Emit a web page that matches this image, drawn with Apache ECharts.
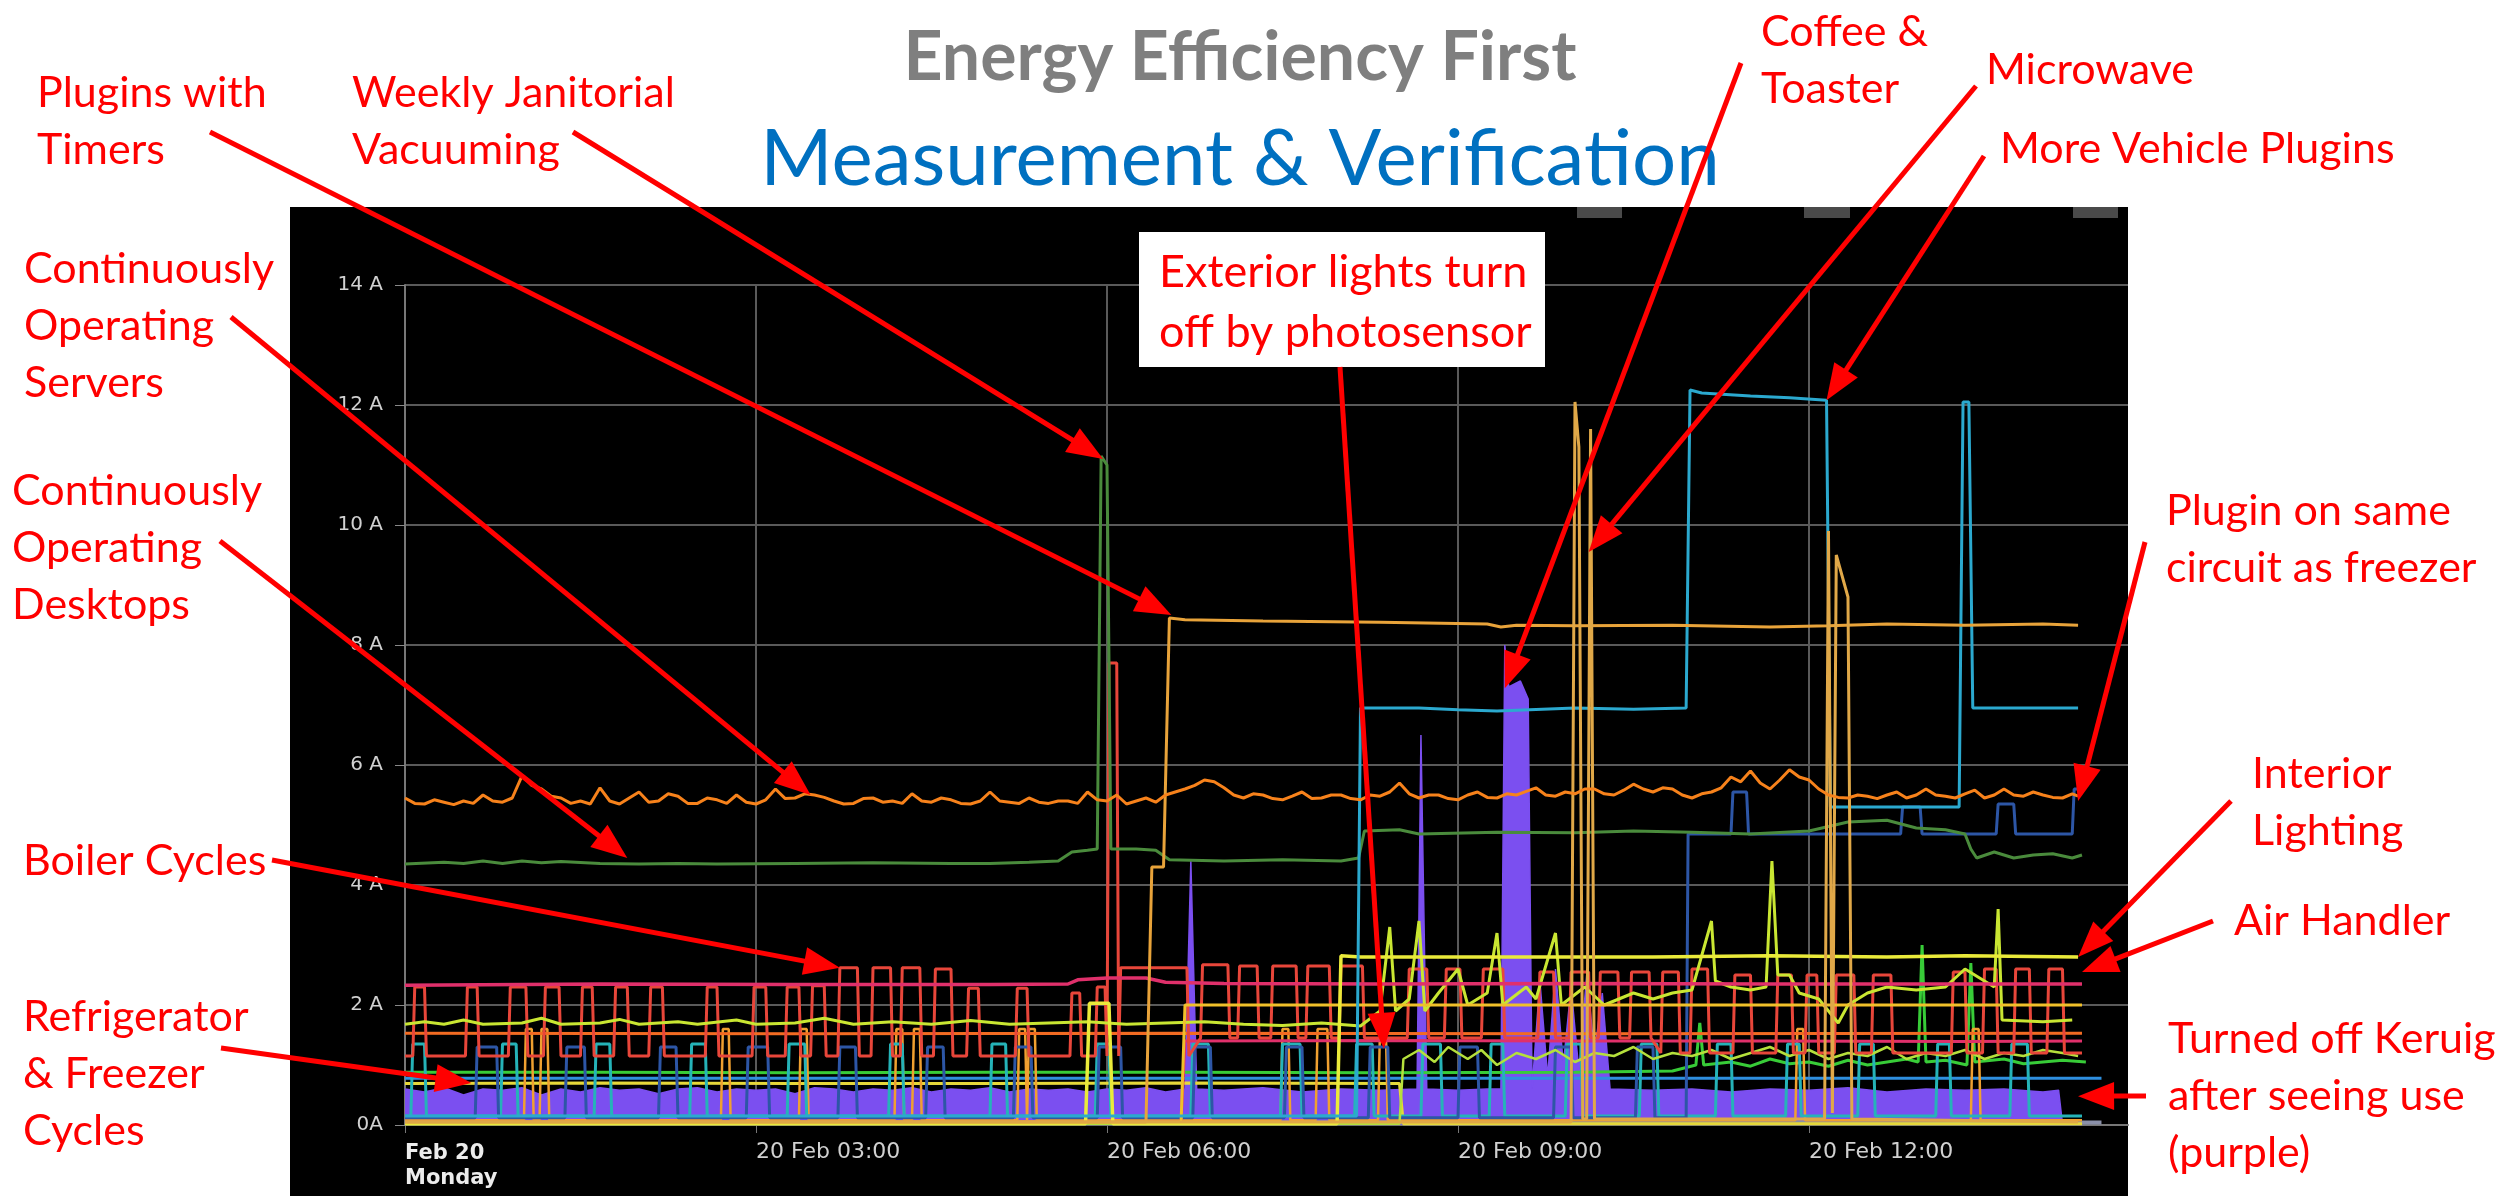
<!DOCTYPE html>
<html>
<head>
<meta charset="utf-8">
<script src="https://cdn.jsdelivr.net/npm/echarts@6/dist/echarts.min.js"></script>
<style>
  html, body { margin: 0; padding: 0; background: #fff; }
  #chart { width: 2509px; height: 1196px; }
</style>
</head>
<body>
<div id="chart"></div>
<script>
// ---- axis ticks (minutes after midnight, amps) ----
var xTicks = [0, 180, 360, 540, 720];
var xTickLabels = ['Feb 20\nMonday', '20 Feb 03:00', '20 Feb 06:00', '20 Feb 09:00', '20 Feb 12:00'];
var yTicks = [0, 2, 4, 6, 8, 10, 12, 14];
var yTickLabels = ['0A', '2 A', '4 A', '6 A', '8 A', '10 A', '12 A', '14 A'];

// ---- series: [minute, amps] ----
var servers = [[0,5.45],[5,5.36],[10,5.35],[15,5.42],[20,5.38],[25,5.34],[30,5.4],[35,5.36],[40,5.5],[45,5.4],[50,5.38],[55,5.45],[60,5.82],[65,5.66],[70,5.6],[75,5.48],[80,5.45],[85,5.36],[90,5.4],[95,5.35],[100,5.62],[105,5.4],[110,5.35],[115,5.45],[120,5.55],[125,5.38],[130,5.4],[135,5.52],[140,5.48],[145,5.36],[150,5.36],[155,5.45],[160,5.42],[165,5.36],[170,5.5],[175,5.38],[180,5.35],[185,5.42],[190,5.6],[195,5.44],[200,5.45],[205,5.52],[210,5.5],[215,5.46],[220,5.4],[225,5.35],[230,5.36],[235,5.44],[240,5.45],[245,5.38],[250,5.4],[255,5.36],[260,5.52],[265,5.4],[270,5.38],[275,5.45],[280,5.42],[285,5.36],[290,5.35],[295,5.4],[300,5.55],[305,5.4],[310,5.38],[315,5.36],[320,5.45],[325,5.38],[330,5.36],[335,5.4],[340,5.4],[345,5.36],[350,5.55],[355,5.42],[360,5.4],[365,5.5],[370,5.35],[375,5.4],[380,5.45],[385,5.38],[390,5.5],[395,5.55],[400,5.6],[405,5.66],[410,5.75],[415,5.72],[420,5.62],[425,5.5],[430,5.45],[435,5.52],[440,5.5],[445,5.44],[450,5.42],[455,5.48],[460,5.55],[465,5.44],[470,5.45],[475,5.5],[480,5.5],[485,5.44],[490,5.42],[495,5.5],[500,5.48],[505,5.55],[510,5.7],[515,5.52],[520,5.45],[525,5.5],[530,5.5],[535,5.44],[540,5.42],[545,5.5],[550,5.55],[555,5.46],[560,5.45],[565,5.52],[570,5.5],[575,5.56],[580,5.62],[585,5.5],[590,5.48],[595,5.55],[600,5.52],[605,5.6],[610,5.6],[615,5.52],[620,5.5],[625,5.58],[630,5.68],[635,5.6],[640,5.55],[645,5.62],[650,5.6],[655,5.5],[660,5.45],[665,5.52],[670,5.55],[675,5.62],[680,5.8],[685,5.72],[690,5.9],[695,5.7],[700,5.6],[705,5.75],[710,5.92],[715,5.8],[720,5.75],[725,5.6],[730,5.5],[735,5.46],[740,5.45],[745,5.5],[750,5.48],[755,5.44],[760,5.5],[765,5.55],[770,5.45],[775,5.5],[780,5.6],[785,5.5],[790,5.48],[795,5.45],[800,5.52],[805,5.58],[810,5.45],[815,5.5],[820,5.6],[825,5.5],[830,5.48],[835,5.55],[840,5.5],[845,5.46],[850,5.45],[855,5.52],[858,5.48]];

var desktops = [[0,4.35],[20,4.38],[30,4.36],[40,4.4],[50,4.36],[60,4.4],[70,4.37],[80,4.39],[100,4.36],[120,4.35],[140,4.36],[160,4.35],[200,4.36],[240,4.37],[280,4.36],[300,4.36],[320,4.38],[335,4.4],[342,4.55],[350,4.58],[355,4.6],[357,11.15],[360,11.0],[362,4.6],[375,4.6],[385,4.58],[392,4.42],[420,4.4],[450,4.42],[480,4.4],[489,4.45],[492,4.9],[510,4.92],[520,4.85],[560,4.88],[600,4.87],[630,4.9],[660,4.88],[690,4.85],[720,4.9],[740,5.05],[760,5.08],[775,4.95],[790,4.92],[800,4.85],[803,4.6],[806,4.45],[815,4.55],[825,4.45],[835,4.5],[845,4.52],[855,4.45],[860,4.5]];

var timers = [[0,0.05],[380,0.05],[383,4.3],[389,4.3],[392,8.45],[400,8.42],[440,8.4],[500,8.38],[555,8.35],[562,8.3],[570,8.33],[600,8.32],[650,8.33],[700,8.3],[730,8.32],[760,8.35],[800,8.33],[840,8.35],[858,8.33]];

var kitchen = [[0,0.05],[598,0.05],[600,12.05],[602,11.3],[604,0.1],[606,0.1],[608,11.6],[610,0.1],[728,0.1],[730,9.9],[732,0.2],[734,9.5],[740,8.8],[742,0.1],[858,0.05]];

var vehicles = [[0,0.15],[488,0.15],[490,6.95],[520,6.95],[540,6.92],[560,6.9],[600,6.95],[630,6.93],[657,6.95],[659,12.25],[665,12.2],[690,12.15],[710,12.12],[729,12.08],[731,5.3],[797,5.3],[799,12.05],[802,12.05],[804,6.95],[858,6.95]];

var freezerCycles = [[37,47],[83,92],[131,139],[176,186],[223,231],[268,276],[313,321],[356,367],[405,413],[452,460],[495,504],[541,550],[590,598],[632,640]];
var freezerPlugin = [[657,0.12],[658,4.85],[680,4.85],[681,5.55],[688,5.55],[689,4.85],[767,4.85],[768,5.3],[777,5.3],[778,4.85],[816,4.85],[817,5.35],[825,5.35],[826,4.85],[855,4.85],[856,5.6],[859,5.6]];

var fridgeCycles = [[4,10],[50,57],[98,105],[147,154],[197,205],[249,255],[301,308],[355,361],[404,412],[450,459],[488,496],[522,531],[557,563],[596,603],[634,642],[673,680],[709,715],[746,753],[786,792],[824,832]];

// boiler: [start, end, on level, off level]
var boilerCycles = [[5,10,2.3,1.15],[32,37,2.3,1.15],[54,62,2.3,1.15],[72,79,2.3,1.15],[91,96,2.3,1.15],[108,114,2.3,1.15],[126,132,2.3,1.15],[155,160,2.3,1.15],[179,185,2.3,1.15],[196,202,2.3,1.15],[209,215,2.32,1.15],[223,232,2.62,1.15],[240,249,2.62,1.15],[255,264,2.62,1.15],[272,280,2.6,1.15],[289,294,2.28,1.15],[314,319,2.28,1.15],[342,346,2.2,1.15],[355,359,2.3,1.15],[361,365,7.7,1.15],[367,401,2.62,1.15],[409,422,2.67,1.45],[428,437,2.65,1.45],[445,457,2.65,1.45],[463,474,2.65,1.45],[480,491,2.65,1.45],[515,524,2.6,1.45],[534,541,2.6,1.45],[553,563,2.6,1.45],[582,589,2.55,1.45],[598,607,2.55,1.45],[613,622,2.55,1.45],[629,638,2.55,1.45],[645,653,2.55,1.2],[660,668,2.6,1.2],[682,690,2.5,1.2],[704,711,2.5,1.2],[719,724,2.5,1.2],[734,743,2.5,1.2],[753,762,2.5,1.2],[794,800,2.55,1.2],[810,816,2.6,1.2],[826,833,2.6,1.2],[843,850,2.6,1.2]];

var airHandler = [[0,2.33],[100,2.35],[200,2.34],[300,2.34],[340,2.35],[345,2.42],[360,2.45],[380,2.45],[390,2.38],[420,2.36],[500,2.35],[600,2.36],[700,2.35],[800,2.35],[860,2.35]];
var pinkLow = [[0,0.05],[398,0.05],[400,1.4],[500,1.41],[600,1.4],[700,1.4],[800,1.39],[860,1.4]];
var orangeFlat = [[0,1.53],[200,1.52],[400,1.53],[600,1.52],[860,1.53]];
var goldFlat = [[0,0.05],[398,0.05],[400,2.0],[600,2.0],[860,2.0]];
var interior = [[0,0.02],[349,0.02],[351,2.03],[361,2.03],[363,0.02],[478,0.02],[480,2.82],[490,2.8],[560,2.8],[640,2.8],[700,2.82],[760,2.8],[800,2.82],[858,2.8]];
var exterior = [[0,0.69],[100,0.7],[200,0.69],[300,0.69],[400,0.7],[510,0.69],[512,0.02],[860,0.02]];

var lime = [[0,1.68],[10,1.72],[20,1.68],[30,1.75],[40,1.68],[60,1.7],[70,1.78],[80,1.68],[100,1.7],[110,1.76],[120,1.68],[140,1.72],[150,1.68],[170,1.75],[180,1.68],[200,1.7],[215,1.78],[230,1.68],[250,1.72],[270,1.68],[290,1.74],[310,1.68],[330,1.7],[350,1.72],[370,1.68],[390,1.7],[410,1.72],[430,1.68],[450,1.66],[470,1.7],[490,1.65],[500,1.9],[505,3.3],[508,1.9],[515,2.1],[520,3.4],[523,1.9],[530,2.2],[540,2.6],[545,2.0],[555,2.2],[560,3.2],[563,2.0],[575,2.3],[580,2.1],[590,3.2],[593,2.0],[605,2.3],[615,2.0],[630,2.2],[640,2.1],[650,2.2],[660,2.25],[670,3.4],[672,2.4],[680,2.3],[690,2.25],[698,2.3],[701,4.4],[704,2.5],[710,2.5],[715,2.2],[725,2.1],[735,1.7],[740,2.0],[750,2.2],[760,2.3],[775,2.25],[790,2.3],[800,2.6],[810,2.4],[815,2.3],[817,3.6],[819,1.75],[840,1.72],[855,1.75]];
var lime2 = [[0,0.02],[510,0.02],[512,1.1],[520,1.25],[528,1.05],[535,1.3],[545,1.1],[552,1.25],[560,1.0],[570,1.2],[580,1.1],[590,1.25],[600,1.05],[610,1.2],[620,1.15],[630,1.3],[640,1.1],[650,1.2],[660,1.15],[670,1.25],[680,1.1],[690,1.2],[700,1.3],[710,1.15],[720,1.25],[730,1.1],[740,1.2],[750,1.15],[760,1.3],[770,1.1],[780,1.2],[790,1.15],[800,1.25],[810,1.1],[820,1.2],[830,1.15],[840,1.25],[850,1.2],[858,1.15]];
var green = [[0,0.88],[100,0.88],[200,0.87],[300,0.88],[400,0.88],[500,0.87],[600,0.88],[650,0.9],[662,1.0],[664,1.7],[666,1.0],[680,1.05],[690,0.98],[700,1.1],[710,1.02],[720,1.05],[730,0.98],[740,1.08],[750,1.0],[760,1.05],[770,1.1],[776,1.05],[778,3.0],[780,1.05],[790,1.08],[801,1.0],[803,2.7],[805,1.05],[820,1.1],[830,1.02],[840,1.05],[850,1.08],[862,1.05]];
var lightBlue = [[0,0.78],[300,0.78],[600,0.78],[870,0.78]];
var grayBase = [[0,0.04],[870,0.04]];
var amberPulses = [[62,65],[70,73],[163,166],[203,206],[252,255],[261,264],[315,318],[320,323],[450,453],[468,473],[500,503],[714,717],[804,807]];

var keurig = [[0,0.6],[10,0.55],[20,0.62],[30,0.5],[40,0.6],[50,0.58],[60,0.62],[70,0.5],[80,0.6],[90,0.55],[100,0.62],[110,0.58],[120,0.6],[130,0.52],[140,0.6],[150,0.62],[160,0.55],[170,0.6],[180,0.58],[190,0.6],[200,0.52],[210,0.62],[220,0.6],[230,0.55],[240,0.6],[250,0.58],[260,0.62],[270,0.55],[280,0.6],[290,0.58],[300,0.62],[310,0.55],[320,0.6],[330,0.58],[340,0.6],[350,0.55],[360,0.6],[370,0.58],[380,0.62],[390,0.55],[400,0.6],[403,4.4],[406,0.6],[420,0.58],[440,0.62],[460,0.55],[480,0.6],[500,0.58],[519,0.6],[521,6.5],[524,0.6],[540,0.58],[555,0.6],[562,0.6],[564,8.0],[566,7.3],[572,7.4],[576,7.1],[578,0.6],[582,2.4],[586,0.8],[590,2.6],[594,1.0],[598,2.3],[602,0.9],[606,2.5],[610,1.2],[614,2.2],[618,0.6],[640,0.58],[660,0.6],[680,0.55],[700,0.6],[720,0.58],[740,0.62],[760,0.55],[780,0.6],[800,0.58],[820,0.6],[840,0.55],[848,0.58],[850,0.02],[860,0.02]];

// ---- helpers ----
function squarePulses(list, base, top, endAt) {
    var pts = [[0, base]];
    list.forEach(function (p) {
        pts.push([p[0] - 1, base], [p[0], top], [p[1], top], [p[1] + 1, base]);
    });
    if (endAt) pts.push([endAt, base]);
    return pts;
}

function boilerLine(list) {
    var pts = [[0, list[0][3]]];
    list.forEach(function (p) {
        pts.push([p[0] - 1, p[3]], [p[0], p[2]], [p[1], p[2]], [p[1] + 1, p[3]]);
    });
    pts.push([860, 1.2]);
    return pts;
}

function line(name, data, color, width, extra) {
    var s = {
        name: name, type: 'line', data: data, showSymbol: false, animation: false,
        lineStyle: { color: color, width: width || 3 }, itemStyle: { color: color }
    };
    if (extra) Object.keys(extra).forEach(function (k) { s[k] = extra[k]; });
    return s;
}

var font = 'Lato, "Open Sans", sans-serif';
var chart = echarts.init(document.getElementById('chart'));

chart.setOption({
    backgroundColor: '#ffffff',
    animation: false,
    grid: { left: 405, top: 285, right: 381, bottom: 71 },
    xAxis: {
        type: 'value', min: 0, max: 883.6,
        axisLine: { show: true, lineStyle: { color: '#777', width: 2 } },
        axisTick: { show: true, length: 8, customValues: xTicks, lineStyle: { color: '#777' } },
        splitLine: { show: true, lineStyle: { color: '#5a5a5a', width: 2 } },
        axisLabel: {
            customValues: xTicks, align: 'left', margin: 16,
            color: '#d0d0d0', fontFamily: 'DejaVu Sans', fontSize: 22,
            formatter: function (v) {
                var s = xTickLabels[xTicks.indexOf(v)] || '';
                if (s.indexOf('\n') >= 0) {
                    return s.split('\n').map(function (t) { return '{b|' + t + '}'; }).join('\n');
                }
                return s;
            },
            rich: { b: { fontWeight: 'bold', color: '#ececec', fontSize: 21, lineHeight: 25, fontFamily: 'DejaVu Sans' } }
        }
    },
    yAxis: {
        type: 'value', min: 0, max: 14, interval: 2,
        axisLine: { show: true, lineStyle: { color: '#777', width: 2 } },
        axisTick: { show: true, length: 10, lineStyle: { color: '#888' } },
        splitLine: { show: true, lineStyle: { color: '#5a5a5a', width: 2 } },
        axisLabel: {
            margin: 22, color: '#d0d0d0', fontFamily: 'DejaVu Sans', fontSize: 20,
            formatter: function (v) { return yTickLabels[yTicks.indexOf(v)]; }
        }
    },
    series: [
        line('Keurig', keurig, '#7b4ff0', 1.5, { areaStyle: { color: '#7b4ff0', opacity: 1 } }),
        line('Base', grayBase, '#8a8fa8', 4),
        line('Light blue', lightBlue, '#2f8fe0', 3),
        line('Exterior', exterior, '#e6d83a', 3),
        line('Green', green, '#38cc38', 3),
        line('Amber', squarePulses(amberPulses, 0.08, 1.6, 860), '#f0a030', 2.5),
        line('Fridge', squarePulses(fridgeCycles, 0.15, 1.35, 860), '#25b3b8', 3),
        line('Freezer', squarePulses(freezerCycles, 0.12, 1.3).concat(freezerPlugin), '#2d56a6', 3),
        line('Orange flat', orangeFlat, '#f26b22', 3),
        line('Pink low', pinkLow, '#e0306b', 3),
        line('Lime 2', lime2, '#b5e03c', 2.5),
        line('Boiler', boilerLine(boilerCycles), '#e8463a', 3),
        line('Lime', lime, '#c9e632', 3),
        line('Gold flat', goldFlat, '#f0c02a', 3),
        line('Air Handler', airHandler, '#e0306b', 3.5),
        line('Interior', interior, '#eaea3a', 3.5),
        line('Desktops', desktops, '#4a8b3c', 3),
        line('Vehicles', vehicles, '#2ba9cf', 3),
        line('Timers', timers, '#e8a33a', 3),
        line('Kitchen', kitchen, '#e0a848', 3),
        line('Servers', servers, '#f7821b', 3)
    ]
});

// ---- annotation layout (pixels) ----
var callouts = [
    { x: 37, y: 93, lines: ['Plugins with', 'Timers'] },
    { x: 352, y: 93, lines: ['Weekly Janitorial', 'Vacuuming'] },
    { x: 24, y: 269, lines: ['Continuously', 'Operating', 'Servers'] },
    { x: 12, y: 491, lines: ['Continuously', 'Operating', 'Desktops'] },
    { x: 23, y: 861, lines: ['Boiler Cycles'] },
    { x: 23, y: 1017, lines: ['Refrigerator', '& Freezer', 'Cycles'] },
    { x: 1761, y: 32, lines: ['Coffee &', 'Toaster'] },
    { x: 1986, y: 70, lines: ['Microwave'] },
    { x: 2000, y: 149, lines: ['More Vehicle Plugins'] },
    { x: 2166, y: 511, lines: ['Plugin on same', 'circuit as freezer'] },
    { x: 2252, y: 774, lines: ['Interior', 'Lighting'] },
    { x: 2234, y: 921, lines: ['Air Handler'] },
    { x: 2168, y: 1039, lines: ['Turned off Keruig', 'after seeing use', '(purple)'] },
    { x: 1159, y: 272, lines: ['Exterior lights turn', 'off by photosensor'], lh: 60, size: 45 }
];
// arrows: tail in pixels, tip at a data point [minute, amps]
var arrows = [
    { tail: [210, 132], tip: [393, 8.5] },
    { tail: [573, 132], tip: [358, 11.1] },
    { tail: [231, 317], tip: [208, 5.5] },
    { tail: [220, 541], tip: [114, 4.45] },
    { tail: [272, 860], tip: [223, 2.62] },
    { tail: [221, 1048], tip: [34, 0.7] },
    { tail: [1741, 63], tip: [564, 7.28] },
    { tail: [1976, 86], tip: [607, 9.55] },
    { tail: [1984, 156], tip: [729, 12.08] },
    { tail: [2145, 542], tip: [858, 5.4] },
    { tail: [2231, 801], tip: [858, 2.8] },
    { tail: [2213, 921], tip: [860, 2.55] },
    { tail: [2146, 1096], tip: [858, 0.48] },
    { tail: [1340, 367], tip: [502, 1.27] }
];

var g = [];
g.push({ type: 'rect', z: -100, silent: true, shape: { x: 290, y: 207, width: 1838, height: 989 }, style: { fill: '#000' } });
[[1577, 45], [1804, 46], [2073, 45]].forEach(function (t) {
    g.push({ type: 'rect', z: -50, silent: true, shape: { x: t[0], y: 207, width: t[1], height: 11 }, style: { fill: '#4a4a4a' } });
});
g.push({ type: 'text', z: 50, style: { text: 'Energy Efficiency First', x: 1240, y: 58, align: 'center', verticalAlign: 'middle', font: 'bold 68px ' + font, fill: '#7f7f7f' } });
g.push({ type: 'text', z: 50, style: { text: 'Measurement & Verification', x: 1240, y: 160, align: 'center', verticalAlign: 'middle', font: '78px ' + font, fill: '#0070c0' } });
g.push({ type: 'rect', z: 60, shape: { x: 1139, y: 232, width: 406, height: 135 }, style: { fill: '#ffffff' } });

callouts.forEach(function (c) {
    var lh = c.lh || 57;
    c.lines.forEach(function (t, i) {
        g.push({ type: 'text', z: 70, style: { text: t, x: c.x, y: c.y + i * lh, align: 'left', verticalAlign: 'middle', font: (c.size || 43) + 'px ' + font, fill: '#ff0000' } });
    });
});

arrows.forEach(function (a) {
    var tip = chart.convertToPixel({ xAxisIndex: 0, yAxisIndex: 0 }, a.tip);
    var dx = tip[0] - a.tail[0], dy = tip[1] - a.tail[1];
    var len = Math.sqrt(dx * dx + dy * dy);
    var ux = dx / len, uy = dy / len;
    var headL = 36, headW = 14;
    var bx = tip[0] - ux * headL, by = tip[1] - uy * headL;
    g.push({ type: 'line', z: 80, silent: true, shape: { x1: a.tail[0], y1: a.tail[1], x2: bx + ux * 4, y2: by + uy * 4 }, style: { stroke: '#ff0000', lineWidth: 5 } });
    g.push({ type: 'polygon', z: 80, silent: true, shape: { points: [[tip[0], tip[1]], [bx - uy * headW, by + ux * headW], [bx + uy * headW, by - ux * headW]] }, style: { fill: '#ff0000' } });
});

chart.setOption({ graphic: g });
</script>
</body>
</html>
